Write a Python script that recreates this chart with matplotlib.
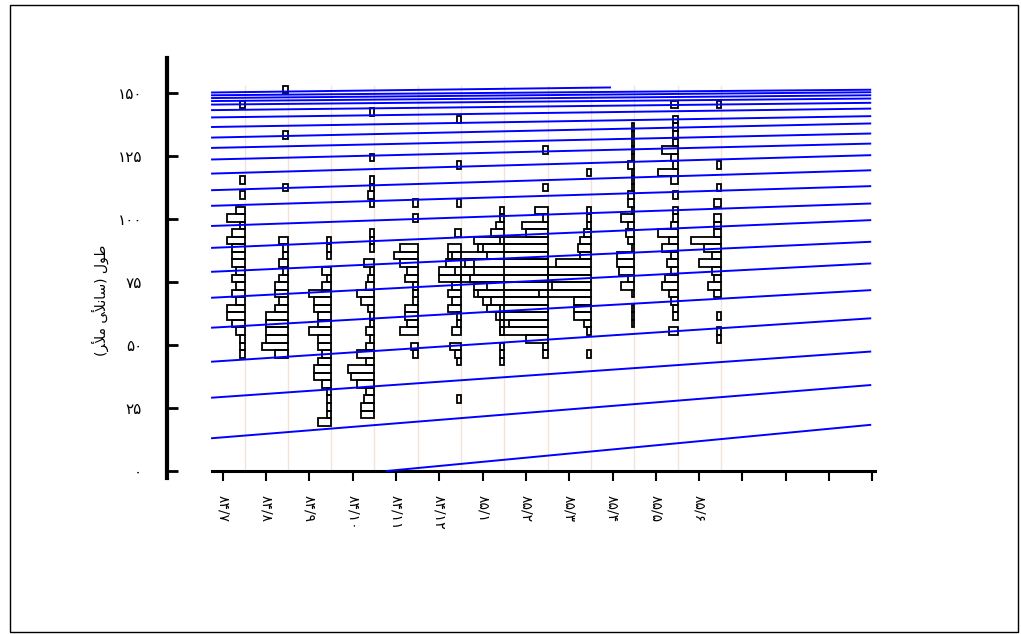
import numpy as np
import matplotlib.pyplot as plt
from matplotlib.patches import Rectangle

# ============================================================
#  Histogrammes mensuels de longueur + courbes de croissance
# ============================================================

# --- Mois d'echantillonnage (chiffres persans) ---
mois = ['۸۴/۷', '۸۴/۸', '۸۴/۹', '۸۴/۱۰', '۸۴/۱۱', '۸۴/۱۲',
        '۸۵/۱', '۸۵/۲', '۸۵/۳', '۸۵/۴', '۸۵/۵', '۸۵/۶']
n_ticks = 16

y_ticks = [0, 25, 50, 75, 100, 125, 150]
y_labels = ['۰', '۲۵', '۵۰', '۷۵', '۱۰۰', '۱۲۵', '۱۵۰']

# label "طول (سانتی متر)" ecrit en formes de presentation, ordre visuel
y_titre = '(\uFEAE\uFEF8\uFEE3 \uFBFD\uFEF8\uFEE7\uFE8E\uFEB3) \uFEDD\uFEEE\uFEC3'

# --- Histogrammes : classe de 3 cm, 1re borne (cm) + effectifs ---
classe = 3
h_debut = [45, 45, 18, 21, 45, 27, 42, 45, 45, 57, 54, 51]
h_eff = [
    [1, 1, 1, 2, 3, 4, 4, 2, 3, 2, 3, 2, 3, 3, 3, 4, 3, 1, 4, 2,
     0, 1, 0, 1, 0, 0, 0, 0, 0, 0, 0, 0, 0, 1],
    [3, 6, 5, 5, 5, 5, 3, 2, 3, 3, 2, 1, 2, 1, 1, 2,
     0, 0, 0, 0, 0, 0, 1, 0, 0, 0, 0, 0, 0, 1, 0, 0, 0, 0, 0, 1],
    [3, 1, 1, 1, 1, 2, 4, 4, 3, 2, 3, 3, 5, 3, 3, 4, 4, 5, 2, 1, 2, 0, 1, 1, 1],
    [3, 3, 2.5, 2, 4, 5.5, 6, 2, 4, 2, 1, 2, 1, 1, 1.5, 3, 4, 2, 1.5, 1, 2.5,
     0, 1, 1, 1, 0, 0, 0, 1, 1.5, 1, 1, 0, 0, 1, 0, 0, 0, 0, 0, 1],
    [1, 1.5, 0, 4, 2.5, 3, 3, 1, 1, 1, 3, 2.5, 4, 5.5, 4, 0, 0, 0, 1, 0, 1],
    [1, 0, 0, 0, 0, 1, 1.5, 2.5, 0, 2, 1, 1, 3, 2, 3, 2, 5, 1.5, 3.5, 2, 3,
     0, 1.5, 0, 0, 0, 1, 0, 0, 0, 0, 1, 0, 0, 0, 0, 0, 1],
    [1, 1, 1, 0, 1, 1, 2, 4, 5, 7, 7, 10, 15, 9, 13, 6, 7, 3, 2, 1, 1],
    [1, 1, 5, 11, 9, 11, 11, 13, 16, 14, 18, 17, 17, 14, 15, 11, 5, 6, 1, 3,
     0, 0, 1, 0, 0, 0, 0, 1],
    [1, 0, 0, 1, 1.5, 4, 4, 4, 12, 9, 10, 10, 8, 2.5, 3, 2.5, 1.5, 1, 1, 1,
     0, 0, 0, 0, 1],
    [.5, .5, .5, 0, .5, 3, 1.5, 3.5, 4, 4, .5, 1.5, 2, 1.5, 3, .5, 1.5, 1.5,
     .5, .5, .5, 1.5, .5, .5, .5, .5, .5],
    [2, 0, 1, 1, 1.5, 2, 3.5, 3, 1.5, 2.5, 1.5, 3.5, 2, 4.5, 1.5, 1, 1, 0, 1,
     0, 1.5, 4.5, 1, 1.5, 3.5, 1, 1, 1, 1, 0, 1.5],
    [1, 1, 0, 1, 0, 0, 1.5, 3, 1.5, 2, 5, 2, 4, 7, 1.5, 1.5, 1.5, 0, 1.5, 0,
     1, 0, 0, 1, 0, 0, 0, 0, 0, 0, 0, 1],
]
echelle = 0.1   # largeur d'un individu (en mois)

# --- Courbes de croissance (debut / fin) ---
c_x0 = [-0.25] * 22 + [3.79]
c_y0 = [150.3, 149.2, 148.1, 146.9, 145.5, 143.3, 140.4, 136.6, 132.4, 128.3,
        123.7, 118.1, 111.5, 105.3, 97.3, 88.6, 79.1, 68.8, 56.9, 43.4,
        29.1, 13.0, 0.0]
c_x1 = [8.94] + [14.95] * 22
c_y1 = [152.3, 151.4, 150.4, 149.2, 147.9, 146.2, 143.9, 140.9, 138.0, 134.0,
        130.0, 125.4, 119.4, 113.1, 106.2, 99.6, 91.0, 82.4, 71.8, 60.6,
        47.4, 34.1, 18.3]

fig = plt.figure(figsize=(10.21, 6.34), dpi=100)
ax = fig.add_axes([167 / 1021, 1 - 478 / 634, 708 / 1021, 420 / 634])

# lignes de base des histogrammes
for i in range(len(mois)):
    ax.plot([i + 0.5, i + 0.5], [0, 153], color='#f2e4d8', lw=1, zorder=1)

# histogrammes (barres vers la gauche)
for i, (d, eff) in enumerate(zip(h_debut, h_eff)):
    eff = np.array(eff, dtype=float)
    y = d + classe * np.arange(len(eff))
    m = eff > 0
    ax.barh(y[m], -eff[m] * echelle, left=i + 0.5, height=classe,
            align='edge', fill=False, edgecolor='black', linewidth=1.3,
            zorder=2)

# courbes de croissance
for x0, y0, x1, y1 in zip(c_x0, c_y0, c_x1, c_y1):
    ax.plot([x0, x1], [y0, y1], color='#0000ff', lw=1.4, zorder=3)

ax.set_xlim(-1.29, 15.06)
ax.set_ylim(-2.8, 164)
ax.spines['top'].set_visible(False)
ax.spines['right'].set_visible(False)
ax.spines['left'].set_linewidth(3)
ax.spines['bottom'].set_position(('data', 0))
ax.spines['bottom'].set_bounds(-0.25, 15.06)
ax.spines['bottom'].set_linewidth(2.2)

ax.set_xticks(range(n_ticks))
ax.set_xticklabels(mois + [''] * (n_ticks - len(mois)))
ax.set_yticks(y_ticks)
ax.set_yticklabels(y_labels)
ax.tick_params(axis='x', direction='out', length=7, width=1.5, pad=10,
               labelsize=10, labelrotation=-90)
ax.tick_params(axis='y', direction='in', length=8, width=2, pad=18,
               labelsize=11)

fig.text(100 / 1021, 1 - 300 / 634, y_titre, rotation=90,
         ha='center', va='center', fontsize=10)

# cadre exterieur
fig.patches.append(Rectangle((10 / 1021, 2 / 634), 1008 / 1021, 627 / 634,
                             transform=fig.transFigure, fill=False,
                             edgecolor='black', linewidth=1))

plt.savefig('out.png', dpi=100)
